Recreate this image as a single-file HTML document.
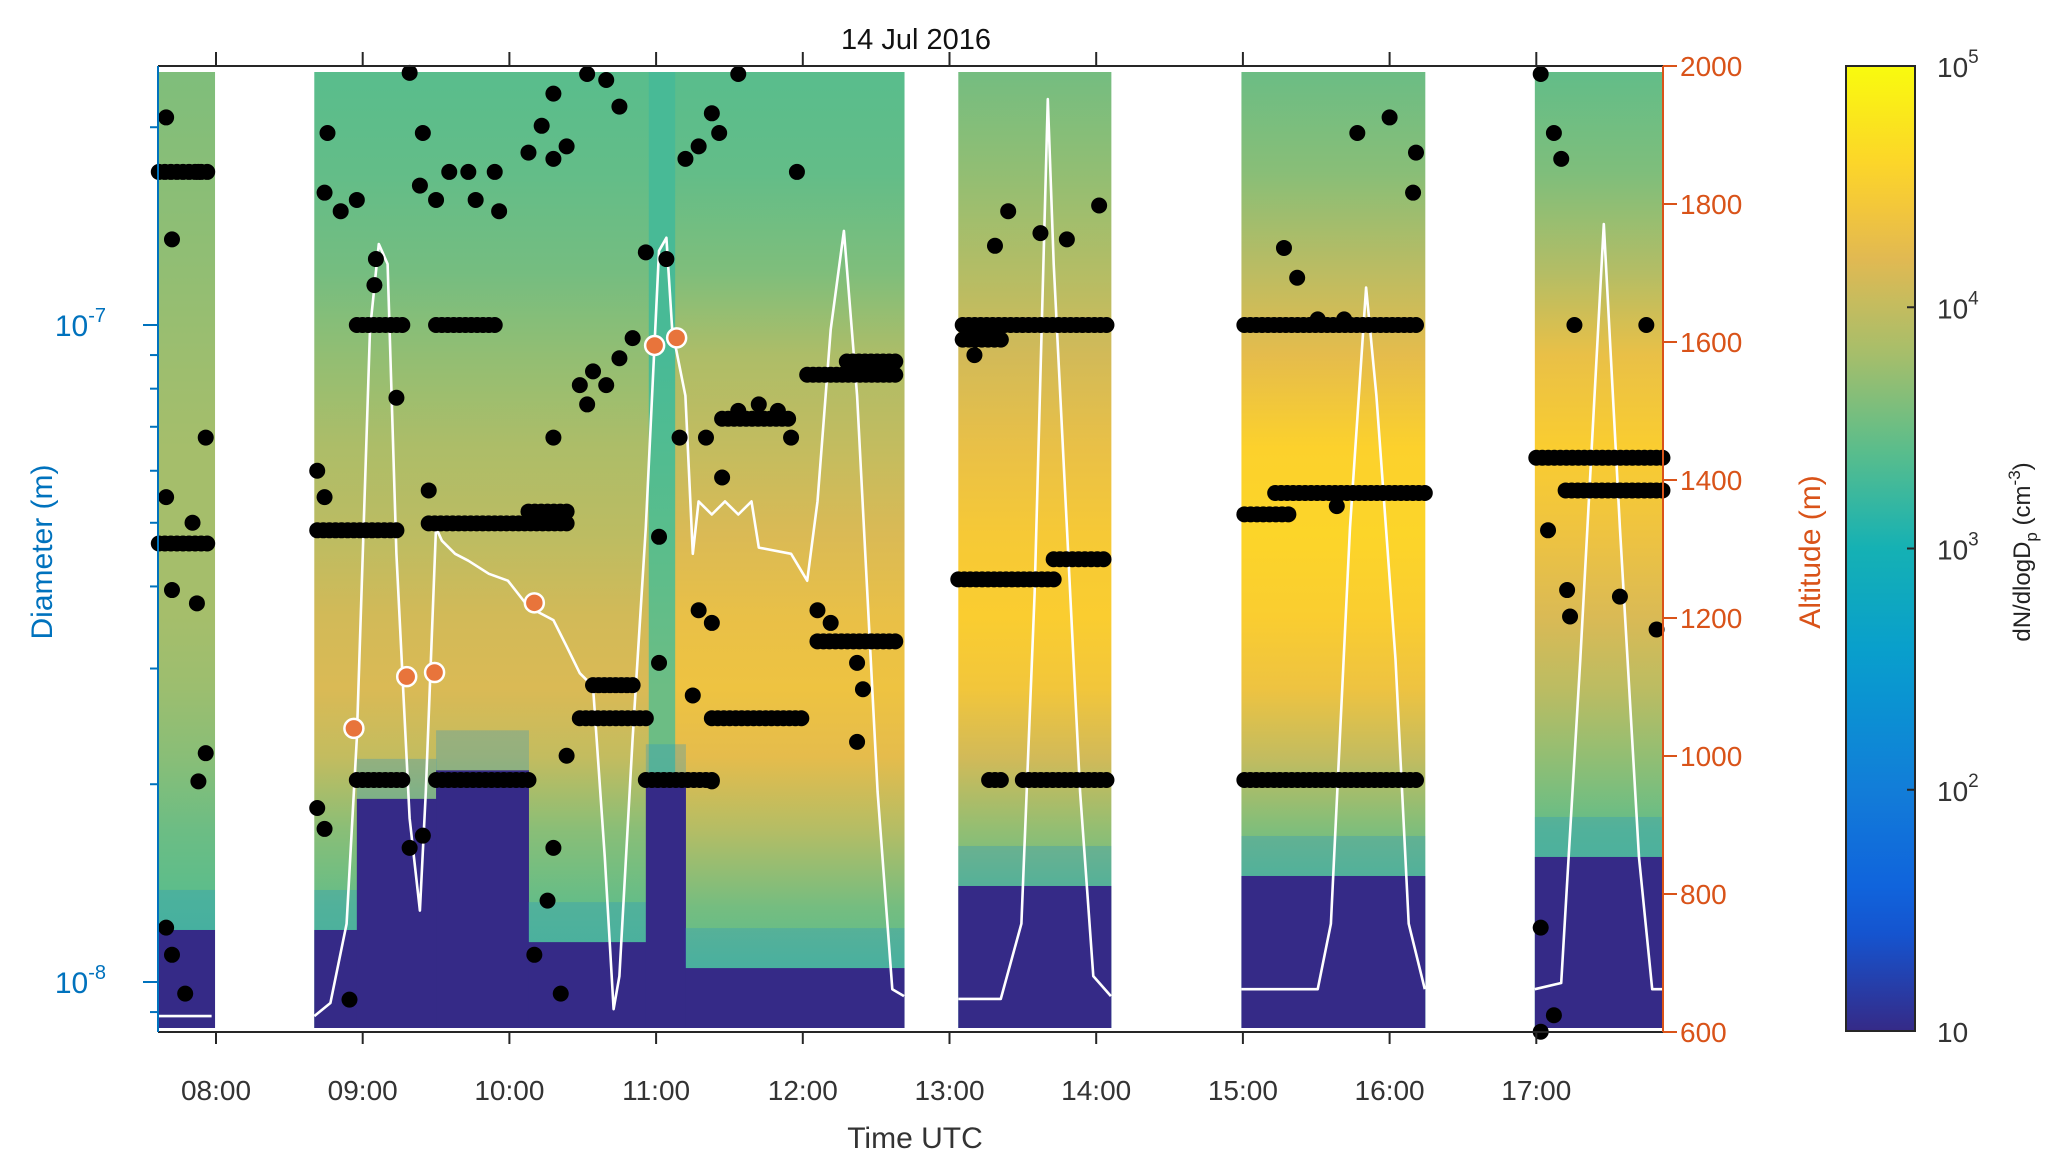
<!DOCTYPE html>
<html><head><meta charset="utf-8">
<style>
html,body{margin:0;padding:0;background:#fff;}
svg{display:block;font-family:"Liberation Sans",Arial,sans-serif;}
</style></head>
<body>
<svg id="chart" width="2067" height="1173" viewBox="0 0 2067 1173" xmlns="http://www.w3.org/2000/svg">
<defs id="defs"></defs>
<g id="heat"></g>
<g id="alt"></g>
<g id="dots"></g>
<g id="marks"></g>
<g id="axes"></g>
<text x="916" y="49" font-size="29" text-anchor="middle" fill="#111">14 Jul 2016</text>
<text x="915" y="1148" font-size="30" text-anchor="middle" fill="#333">Time UTC</text>
<text transform="translate(52,552) rotate(-90)" font-size="30" text-anchor="middle" fill="#0072bd">Diameter  (m)</text>
<text transform="translate(1820,552) rotate(-90)" font-size="30" text-anchor="middle" fill="#d95319">Altitude (m)</text>
<text transform="translate(2030,552) rotate(-90)" font-size="24" text-anchor="middle" fill="#222">dN/dlogD<tspan font-size="17" dy="7">p</tspan><tspan dy="-7"> (cm</tspan><tspan font-size="17" dy="-10">-3</tspan><tspan dy="10">)</tspan></text>
</svg>
<script>
// ---------- data ----------
const blockStarts = [7.60, 8.67, 13.06, 14.99, 16.99];
const blockEnds   = [7.99, 12.69, 14.10, 16.24, 17.87];
// profile segments: start, end, profile index
const segStarts = [7.60, 8.67, 10.95, 11.13, 13.06, 14.99, 16.99];
const segEnds   = [7.99, 10.95, 11.13, 12.69, 14.10, 16.24, 17.87];
const segProfile= [0, 1, 2, 3, 4, 5, 6];
const profileDiam = [240, 170, 120, 90, 65, 48, 36, 28, 22, 17, 13, 10, 8];
const profileConc = [
 [3.6,3.65,3.7,3.75,3.8,3.8,3.8,3.75,3.65,3.5,3.4,3.3,3.2],
 [3.4,3.45,3.55,3.7,3.85,3.95,4.1,4.15,4.0,3.65,3.45,3.35,3.25],
 [3.3,3.3,3.3,3.3,3.35,3.4,3.45,3.5,3.5,3.4,3.3,3.2,3.1],
 [3.4,3.45,3.6,3.85,4.0,4.15,4.3,4.35,4.25,3.9,3.55,3.35,3.25],
 [3.55,3.7,3.9,4.1,4.3,4.45,4.5,4.4,4.1,3.7,3.4,3.25,3.15],
 [3.5,3.65,3.95,4.25,4.55,4.6,4.5,4.35,4.0,3.6,3.35,3.25,3.15],
 [3.45,3.6,3.9,4.3,4.5,4.35,4.15,3.95,3.7,3.45,3.35,3.25,3.15]
];
// navy (low concentration) region: below cut diameter
const lowStarts = [7.60, 8.67, 8.96, 9.50, 10.13, 10.93, 11.20, 13.06, 14.99, 16.99];
const lowEnds   = [7.99, 8.96, 9.50, 10.13, 10.93, 11.20, 12.69, 14.10, 16.24, 17.87];
const lowCut    = [12, 12, 19, 21, 11.5, 20, 10.5, 14, 14.5, 15.5];
// altitude
const altT = [7.61,7.97,null,8.67,8.78,8.89,8.96,9.05,9.11,9.17,9.23,9.32,9.39,9.43,9.50,9.54,9.63,9.72,9.86,9.99,10.13,10.30,10.39,10.48,10.57,10.65,10.71,10.75,10.84,10.93,11.02,11.07,11.11,11.20,11.25,11.29,11.38,11.47,11.56,11.65,11.70,11.92,12.03,12.10,12.19,12.28,12.37,12.51,12.61,12.69,null,13.06,13.35,13.49,13.58,13.67,13.71,13.80,13.89,13.98,14.10,null,14.99,15.51,15.60,15.73,15.84,15.91,16.04,16.13,16.24,null,16.99,17.17,17.30,17.46,17.57,17.70,17.79,17.87];
const altV = [623,623,null,623,642,757,1025,1618,1742,1713,1293,910,776,948,1331,1312,1293,1283,1264,1254,1216,1197,1159,1120,1101,853,633,681,1025,1331,1732,1751,1618,1522,1293,1369,1350,1369,1350,1369,1302,1293,1254,1369,1618,1761,1522,948,662,652,null,648,648,757,1235,1952,1713,1331,948,681,652,null,662,662,757,1331,1679,1522,1140,757,662,null,662,671,1140,1771,1331,853,662,662];
const markT = [8.94, 9.30, 9.49, 10.17, 10.99, 11.14];
const markA = [1040, 1115, 1121, 1222, 1595, 1606];
// runs of dots: start, end, diameter(nm)
const runStart = [7.61,7.61,8.96,9.50,13.09,15.01,8.96,9.50,10.93,13.27,13.50,15.01,8.69,9.45,10.13,10.48,11.38,10.57,12.10,12.03,13.06,13.71,13.09,15.01,15.22,17.00,17.20,12.30,11.45];
const runEnd   = [7.94,7.94,9.27,9.90,14.07,16.18,9.27,10.13,11.38,13.35,14.07,16.18,9.23,10.39,10.39,10.93,11.99,10.84,12.63,12.63,13.71,14.05,13.35,15.31,16.24,17.86,17.86,12.63,11.90];
const runDiam  = [171,46.5,100,100,100,100,20.3,20.3,20.3,20.3,20.3,20.3,48.7,49.9,52,25.2,25.2,28.3,33,84,41,44,95,51.5,55.5,62.8,56,88,72];
// individual dots
const dotT = [7.66,7.88,7.70,8.76,9.32,9.41,9.39,9.50,9.59,9.72,9.77,9.90,9.93,10.13,10.22,10.30,10.39,10.30,10.53,10.66,10.75,10.93,11.07,11.20,11.29,11.38,11.43,11.56,11.96,9.09,8.96,8.74,8.85,9.08,
 8.69,8.74,9.45,9.23,10.30,10.48,10.57,10.66,10.75,10.84,10.53,11.34,11.56,11.70,11.83,11.92,11.45,11.16,11.02,11.02,11.29,11.38,11.25,11.38,10.39,10.30,10.26,10.35,10.17,8.69,8.74,8.91,9.41,9.32,12.10,12.19,12.37,12.41,12.37,
 13.31,13.40,13.62,13.80,14.02,13.17,15.28,15.37,15.78,16.00,16.18,16.16,15.51,15.69,15.64,
 17.03,17.12,17.17,17.26,17.75,17.08,17.21,17.23,17.57,17.82,17.03,17.12,17.03,
 7.66,7.84,7.70,7.87,7.93,7.88,7.93,7.66,7.70,7.79];
const dotD = [207,171,135,196,242,196,163,155,171,171,155,171,149,183,201,179,187,225,241,236,215,129,126,179,187,210,196,241,171,126,155,159,149,115,
 60,54.7,56,77.5,67.4,81,85,81,89,95.5,75.7,67.4,74,75.7,74,67.4,58.6,67.4,47.6,30.6,36.8,35.2,27.3,20.2,22.1,16,13.3,9.6,11,18.4,17.1,9.4,16.7,16,36.8,35.2,30.6,27.9,23.2,
 132,149,138,135,152,90,131,118,196,207,183,159,102,102,53,
 241,196,179,100,100,48.7,39.5,36,38.6,34.4,12.1,8.9,8.4,
 54.7,50,39.5,37.7,67.4,20.2,22.3,12.1,11,9.6];

// ---------- scales ----------
const X0=216, PXH=146.7;
const xS = t => X0 + (t-8)*PXH;
const yD = d => 325 + (2 - Math.log10(d))*657;
const yA = a => 1032 - (a-600)*(966/1400);
const DTOP=72, DBOT=1028, PL=158, PR=1663, PT=66, PB=1032;
const NS="http://www.w3.org/2000/svg";
function mk(tag, attrs, parent){const e=document.createElementNS(NS,tag);for(const k in attrs)e.setAttribute(k,attrs[k]);parent.appendChild(e);return e;}
const xC = t => Math.min(xS(t), PR-1);

const cmStops=[[0,[53,42,135]],[0.12,[15,92,221]],[0.25,[18,125,216]],[0.38,[7,156,207]],[0.5,[21,177,180]],[0.6,[89,189,140]],[0.7,[165,190,107]],[0.8,[225,185,82]],[0.88,[252,206,46]],[1,[249,251,14]]];
function cmap(v){v=Math.max(0,Math.min(1,v));for(let i=1;i<cmStops.length;i++){if(v<=cmStops[i][0]){const a=cmStops[i-1],b=cmStops[i];const f=(v-a[0])/(b[0]-a[0]);const c=a[1].map((x,j)=>Math.round(x+(b[1][j]-x)*f));return `rgb(${c[0]},${c[1]},${c[2]})`;}}return 'rgb(249,251,14)';}
const cval = lc => (lc-1)/4;

const defs=document.getElementById('defs');
const heat=document.getElementById('heat');
segStarts.forEach((s,i)=>{
  const gid='g'+i;
  const g=mk('linearGradient',{id:gid,x1:0,y1:DTOP,x2:0,y2:DBOT,gradientUnits:'userSpaceOnUse'},defs);
  const prof=profileConc[segProfile[i]];
  profileDiam.forEach((d,j)=>{
    const off=(yD(d)-DTOP)/(DBOT-DTOP);
    mk('stop',{offset:Math.max(0,Math.min(1,off)),'stop-color':cmap(cval(prof[j]))},g);
  });
  const r=mk('rect',{x:xS(s),y:DTOP,width:xC(segEnds[i])-xS(s)+0.5,height:DBOT-DTOP,fill:`url(#${gid})`},heat);
  
  
});
lowStarts.forEach((s,i)=>{
  const yc=yD(lowCut[i]);
  const tb=mk('rect',{x:xS(s),y:yc-40,width:xC(lowEnds[i])-xS(s)+0.5,height:40,fill:'rgb(40,150,200)',opacity:0.3},heat);
  
  
  const r=mk('rect',{x:xS(s),y:yc,width:xC(lowEnds[i])-xS(s)+0.5,height:DBOT-yc,fill:'#352a87'},heat);
  
  
});

const altG=document.getElementById('alt');
let pts=[];
function flush(){ if(pts.length){const p=mk('polyline',{points:pts.join(' '),fill:'none',stroke:'#fff','stroke-width':2.6,'stroke-linejoin':'round'},altG);
  
  } pts=[]; }
altT.forEach((t,i)=>{ if(t===null){flush();return;} pts.push(xC(t).toFixed(1)+','+yA(altV[i]).toFixed(1)); });
flush();

const dotsG=document.getElementById('dots');
runStart.forEach((s,i)=>{
  const x0=xS(s), x1=xS(runEnd[i]), y=yD(runDiam[i]);
  const n=Math.max(1,Math.round((x1-x0)/6));
  for(let k=0;k<=n;k++){
    const c=mk('circle',{cx:x0+(x1-x0)*k/n,cy:y,r:8,fill:'#000'},dotsG);
    
    
  }
});
dotT.forEach((t,i)=>{
  const c=mk('circle',{cx:xS(t),cy:yD(dotD[i]),r:8,fill:'#000'},dotsG);
  
  
});

const mg=document.getElementById('marks');
markT.forEach((t,i)=>{
  const c=mk('circle',{cx:xS(t),cy:yA(markA[i]),r:9.5,fill:'#e8743b',stroke:'#fff','stroke-width':2.5},mg);
  
  
});

const ax=document.getElementById('axes');
mk('line',{x1:PL,y1:PT,x2:PR,y2:PT,stroke:'#262626','stroke-width':2},ax);
mk('line',{x1:PL,y1:PB,x2:PR,y2:PB,stroke:'#262626','stroke-width':2},ax);
mk('line',{x1:PL,y1:PT,x2:PL,y2:PB,stroke:'#0072bd','stroke-width':2},ax);
mk('line',{x1:PR,y1:PT,x2:PR,y2:PB,stroke:'#d95319','stroke-width':2},ax);
const xTicks=['08:00','09:00','10:00','11:00','12:00','13:00','14:00','15:00','16:00','17:00'];
xTicks.forEach((lab,i)=>{
  const x=xS(8+i);
  mk('line',{x1:x,y1:PT,x2:x,y2:PT-14,stroke:'#262626','stroke-width':2},ax);
  mk('line',{x1:x,y1:PB,x2:x,y2:PB+12,stroke:'#262626','stroke-width':2},ax);
  const t=mk('text',{x:x,y:1100,'font-size':28,'text-anchor':'middle',fill:'#333'},ax);
  t.textContent=lab;
  
  
});
const yDec=[-7,-8];
for(let e=-9;e<=-7;e++){for(let m=1;m<=9;m++){const d=m*Math.pow(10,e+9);const y=yD(d);if(y<PT||y>PB)continue;
  mk('line',{x1:PL,y1:y,x2:PL-(m===1?15:8),y2:y,stroke:'#0072bd','stroke-width':2},ax);}}
yDec.forEach(e=>{
  const y=yD(Math.pow(10,e+9));
  const t=mk('text',{x:106,y:y+11,'font-size':30,'text-anchor':'end',fill:'#0072bd'},ax);
  t.textContent='10';
  const s=mk('tspan',{'font-size':20,dy:-14},t); s.textContent=String(e);
  
  
});
const altTicks=[600,800,1000,1200,1400,1600,1800,2000];
altTicks.forEach(a=>{
  const y=yA(a);
  mk('line',{x1:PR,y1:y,x2:PR+14,y2:y,stroke:'#d95319','stroke-width':2},ax);
  const t=mk('text',{x:1680,y:y+10,'font-size':28,fill:'#d95319'},ax);
  t.textContent=String(a);
  
  
});
const CL=1846,CR=1915,CT=66,CB=1031;
const cg=mk('linearGradient',{id:'cbg',x1:0,y1:1,x2:0,y2:0},defs);
for(let i=0;i<=20;i++){mk('stop',{offset:i/20,'stop-color':cmap(i/20)},cg);}
const cb=mk('rect',{x:CL,y:CT,width:CR-CL,height:CB-CT,fill:'url(#cbg)',stroke:'#262626','stroke-width':2},ax);


const cbExp=[1,2,3,4,5];
cbExp.forEach(e=>{
  const y=CB-(e-1)*(CB-CT)/4;
  mk('line',{x1:CR,y1:y,x2:CR-8,y2:y,stroke:'#262626','stroke-width':2},ax);
  const t=mk('text',{x:1937,y:y+11,'font-size':28,fill:'#333'},ax);
  t.textContent='10';
  if(e>1){const s=mk('tspan',{'font-size':19,dy:-14},t); s.textContent=String(e);}
  
  
});
</script>
</body></html>
